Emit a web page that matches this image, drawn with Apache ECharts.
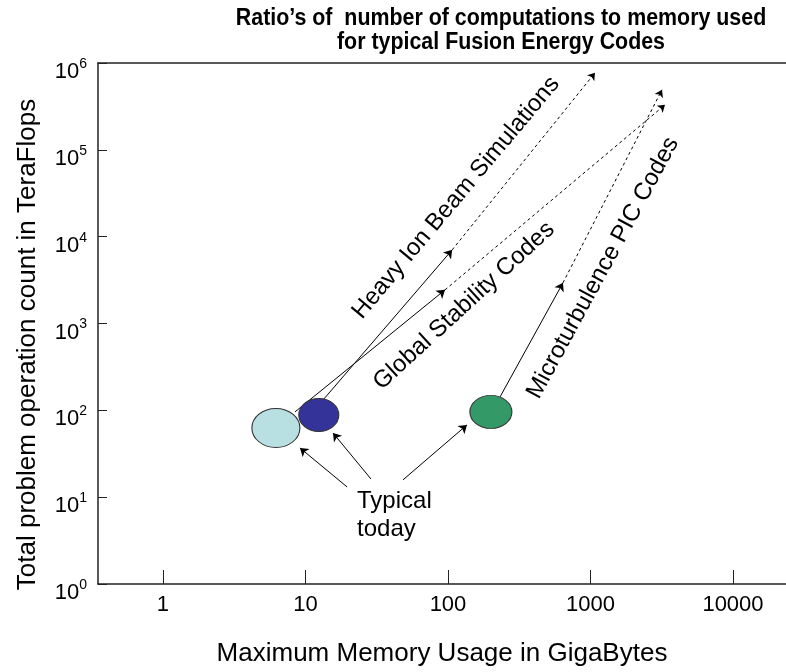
<!DOCTYPE html>
<html><head><meta charset="utf-8">
<script src="https://cdn.jsdelivr.net/npm/echarts@6/dist/echarts.min.js"></script>
<style>html,body{margin:0;padding:0;background:#fff}#c{width:786px;height:672px}</style>
</head><body><div id="c"></div>
<script>
// ---- data ----
const titleLines = ['Ratio\u2019s of  number of computations to memory used', 'for typical Fusion Energy Codes'];
const xTickValues = [1, 10, 100, 1000, 10000];
const yTickValues = [1, 10, 100, 1000, 10000, 100000, 1000000];
const codeNames = ['Heavy Ion Beam Simulations', 'Global Stability Codes', 'Microturbulence PIC Codes'];
const todayMemoryGB = [12.4, 6.2, 200];
const todayTeraFlops = [88.5, 62.7, 95.9];
const solidFrom = [[13.3, 132], [8.44, 95.9], [232, 143]];
const solidTo = [[107, 7050], [95.3, 2440], [641, 2940]];
const dashedTo = [[1076, 771000], [3334, 329700], [3175, 491000]];
const codeLabelAt = [[113.8, 28000], [129.5, 1595], [1224, 4372]];
const typicalText = 'Typical\ntoday';
const typicalAt = [23.0, 6.24];
const typicalTail = [[19.6, 13.1], [28.8, 16.2], [48.3, 15.8]];
const typicalHead = [[9.15, 36.9], [15.6, 54.9], [135.9, 67.9]];

// ---- styles ----
const FONT = '"Liberation Sans", Arial, sans-serif';
const circleColors = ['#333399', '#b8e0e3', '#339966'];
const circleSizes = [[40, 33], [48, 39], [42, 33]];
const labelAngles = [50, 42.5, 61.5];
const axisColor = '#222';

const chart = echarts.init(document.getElementById('c'), null, {renderer: 'canvas'});
const isPow = v => Math.abs(Math.log10(v) - Math.round(Math.log10(v))) < 1e-6;

chart.setOption({
  animation: false,
  backgroundColor: '#fff',
  graphic: [{
    type: 'text', x: 501, y: 7, scaleX: 0.93, scaleY: 1, z: 10,
    style: {text: titleLines.join('\n'), fill: '#000', align: 'center', verticalAlign: 'top',
      font: 'bold 23px ' + FONT, lineHeight: 24}
  }],
  grid: {left: 98, top: 63, right: 0, bottom: 88, containLabel: false},
  xAxis: [{
    type: 'log', logBase: 10, min: 0.35, max: 23550, position: 'bottom',
    axisLine: {show: true, onZero: false, lineStyle: {color: axisColor, width: 1.5}},
    axisTick: {show: true, inside: true, length: 14, customValues: xTickValues, lineStyle: {color: axisColor, width: 1}},
    axisLabel: {customValues: xTickValues, fontSize: 22, color: '#000', margin: 10, fontFamily: FONT,
      formatter: v => isPow(v) ? String(Math.round(v)) : ''},
    splitLine: {show: false}, minorTick: {show: false},
    name: 'Maximum Memory Usage in GigaBytes', nameLocation: 'middle', nameGap: 57,
    nameTextStyle: {fontSize: 26, color: '#000', fontFamily: FONT}
  }, {
    type: 'value', position: 'top', min: 0, max: 1,
    axisLine: {show: true, onZero: false, lineStyle: {color: axisColor, width: 1.5}},
    axisTick: {show: false}, axisLabel: {show: false}, splitLine: {show: false}
  }],
  yAxis: {
    type: 'log', logBase: 10, min: 1, max: 1000000,
    axisLine: {show: true, onZero: false, lineStyle: {color: axisColor, width: 1.5}},
    axisTick: {show: true, inside: true, length: 9, customValues: yTickValues, lineStyle: {color: axisColor, width: 1}},
    axisLabel: {customValues: yTickValues, margin: 11, color: '#000', padding: [14, 0, 0, 0],
      formatter: v => '{b|10}{s|' + Math.round(Math.log10(v)) + '}',
      rich: {
        b: {fontSize: 22, fontFamily: FONT, color: '#000', lineHeight: 26, verticalAlign: 'bottom'},
        s: {fontSize: 14, fontFamily: FONT, color: '#000', lineHeight: 26, verticalAlign: 'top'}
      }},
    splitLine: {show: false}, minorTick: {show: false},
    name: 'Total problem operation count in TeraFlops', nameLocation: 'middle', nameGap: 57,
    nameTextStyle: {fontSize: 26, color: '#000', fontFamily: FONT, padding: [0, 42, 0, 0]}
  },
  series: [
    {
      type: 'lines', coordinateSystem: 'cartesian2d', z: 3,
      symbol: ['none', 'arrow'], symbolSize: 8,
      lineStyle: {color: '#000', width: 1, type: 'solid', opacity: 1},
      data: solidFrom.map((p, i) => ({coords: [p, solidTo[i]]}))
    },
    {
      type: 'lines', coordinateSystem: 'cartesian2d', z: 3,
      symbol: ['none', 'arrow'], symbolSize: 7,
      lineStyle: {color: '#000', width: 1, type: [3, 3], opacity: 1},
      data: solidTo.map((p, i) => ({coords: [p, dashedTo[i]]}))
    },
    {
      type: 'lines', coordinateSystem: 'cartesian2d', z: 3,
      symbol: ['none', 'arrow'], symbolSize: 8,
      lineStyle: {color: '#000', width: 1, type: 'solid', opacity: 1},
      data: typicalTail.map((p, i) => ({coords: [p, typicalHead[i]]}))
    },
    {
      type: 'scatter', z: 4, symbol: 'circle',
      itemStyle: {borderColor: '#333', borderWidth: 1, opacity: 1},
      data: todayMemoryGB.map((x, i) => ({
        value: [x, todayTeraFlops[i]], symbolSize: circleSizes[i],
        itemStyle: {color: circleColors[i]}
      }))
    },
    {
      type: 'scatter', z: 5, symbolSize: 0, silent: true,
      itemStyle: {opacity: 1, color: '#000'},
      data: codeLabelAt.map((p, i) => ({
        value: p, name: codeNames[i],
        label: {show: true, position: 'inside', formatter: '{b}', rotate: labelAngles[i],
          fontSize: 24, fontFamily: FONT, color: '#000', opacity: 1}
      })).concat([{
        value: typicalAt, name: typicalText,
        label: {show: true, position: 'inside', formatter: '{b}', align: 'left',
          fontSize: 24, lineHeight: 28, fontFamily: FONT, color: '#000', opacity: 1, textBorderWidth: 0}
      }])
    }
  ]
});
</script></body></html>
